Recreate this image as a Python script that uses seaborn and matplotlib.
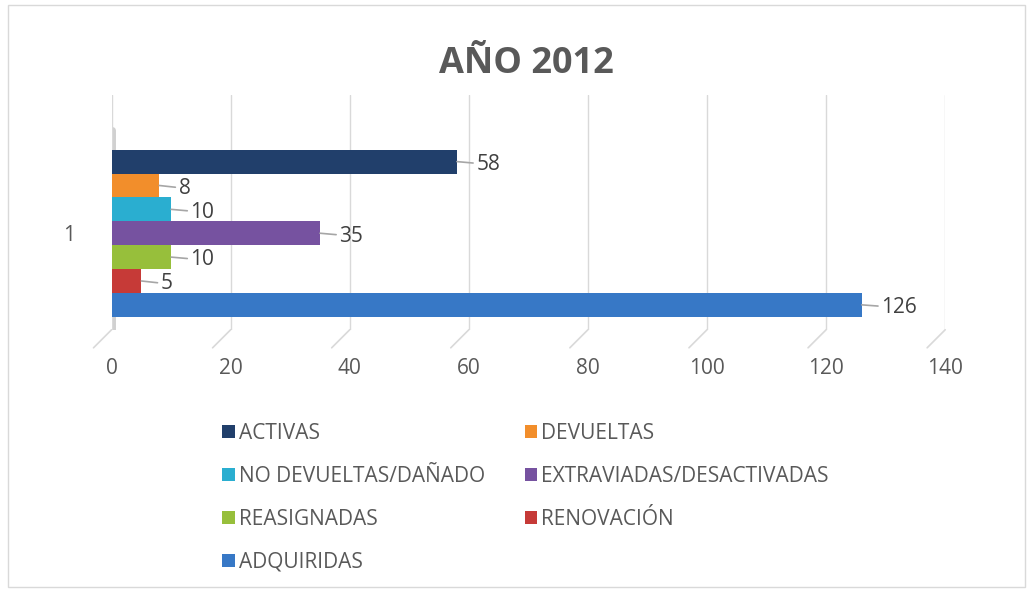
import pandas as pd
import seaborn as sns
import matplotlib.pyplot as plt
from matplotlib.patches import Rectangle

# Data
categories = ["ACTIVAS", "DEVUELTAS", "NO DEVUELTAS/DAÑADO", "EXTRAVIADAS/DESACTIVADAS",
              "REASIGNADAS", "RENOVACIÓN", "ADQUIRIDAS"]
values = [58, 8, 10, 35, 10, 5, 126]
group = ["1"] * len(categories)
colors = ["#213f6b", "#f28e2b", "#2aaed0", "#7652a0", "#97bf3b", "#c63a37", "#3778c6"]
ticks = list(range(0, 141, 20))

df = pd.DataFrame({"grupo": group, "tipo": categories, "valor": values})

sns.set_style("whitegrid")
plt.rcParams['font.family'] = ['Open Sans', 'DejaVu Sans']

fig = plt.figure(figsize=(10.33, 5.92), dpi=100)
ax = fig.add_axes([0.108, 0.443, 0.807, 0.397])

sns.barplot(data=df, y="grupo", x="valor", hue="tipo", hue_order=categories,
            palette=colors, saturation=1, orient="h", width=0.8, dodge=True, ax=ax,
            edgecolor="none", legend=True)

# value labels with gray leader lines
for bars in ax.containers:
    for b in bars:
        w = b.get_width()
        yc = b.get_y() + b.get_height() / 2
        ax.annotate(f"{w:.0f}", xy=(w, yc), xytext=(14, -2), textcoords="offset points",
                    va="center", ha="left", fontsize=15, color="#404040",
                    arrowprops=dict(arrowstyle="-", color="#a6a6a6", lw=1.2,
                                    shrinkA=0, shrinkB=0))

ax.set_xlim(0, 140)
ax.set_xticks(ticks)
ax.set_ylim(0.462, -0.663)
ax.grid(axis="x", color="#d9d9d9", lw=1)
ax.grid(axis="y", visible=False)
for s in ax.spines.values():
    s.set_visible(False)
ax.tick_params(axis="x", labelsize=15, labelcolor="#595959", pad=20, length=0)
ax.tick_params(axis="y", labelsize=15, labelcolor="#595959", pad=26, length=0)
ax.set_xlabel("")
ax.set_ylabel("")

# 3d-ish floor: small diagonal feet under each gridline
for t in ticks:
    ax.annotate("", xy=(t, 0), xycoords=ax.get_xaxis_transform(),
                xytext=(-13, -13), textcoords="offset points",
                arrowprops=dict(arrowstyle="-", color="#d9d9d9", lw=1.2,
                                shrinkA=0, shrinkB=0))

# left wall
ax.axvline(0, ymin=0, ymax=0.85, color="#d0d0d0", lw=5, zorder=0)

fig.suptitle("AÑO 2012", x=0.51, y=0.922, fontsize=26, fontweight="bold", color="#595959")

handles, labels = ax.get_legend_handles_labels()
ax.legend_.remove()
order = [0, 2, 4, 6, 1, 3, 5]
fig.legend([handles[i] for i in order], [labels[i] for i in order],
           loc="upper left", bbox_to_anchor=(0.197, 0.317), ncol=2,
           frameon=False, fontsize=15, labelcolor="#595959", handlelength=0.6,
           handleheight=0.6, handletextpad=0.2, columnspacing=1.9, labelspacing=1.05)

fig.patches.append(Rectangle((0.008, 0.008), 0.984, 0.984, transform=fig.transFigure,
                             fill=False, edgecolor="#d9d9d9", lw=1))

plt.savefig("out.png", dpi=100, facecolor="white")
